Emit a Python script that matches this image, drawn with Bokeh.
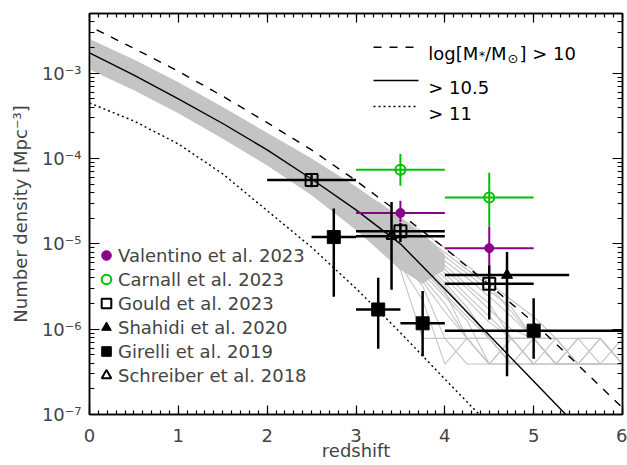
from bokeh.plotting import figure
from bokeh.models import (Range1d, SingleIntervalTicker, LogTicker, LinearAxis, LogAxis,
                          CustomJSTickFormatter, Legend, LegendItem, Label, Arrow)
from bokeh.embed import file_html
from bokeh.resources import INLINE

# ---------------- data ----------------
# model curves: cumulative number density above mass thresholds
z_mass10 = [0.0, 0.5, 1.0, 1.5, 2.0, 2.5, 3.0, 3.5, 4.0, 4.5, 5.0, 5.5, 6.0]
n_mass10 = [3.55e-3, 1.95e-3, 1.05e-3, 5.37e-4, 2.63e-4, 1.26e-4, 5.5e-5, 2.24e-5,
            8.9e-6, 3.3e-6, 1.2e-6, 3.8e-7, 1.2e-7]
z_mass105 = [0.0, 0.5, 1.0, 1.5, 2.0, 2.5, 3.0, 3.5, 4.0, 4.5, 5.0, 5.5]
n_mass105 = [1.73e-3, 9.5e-4, 5.0e-4, 2.57e-4, 1.26e-4, 5.75e-5, 2.5e-5, 1.0e-5,
             2.95e-6, 8.5e-7, 2.45e-7, 7.1e-8]
z_mass11 = [0.0, 0.5, 1.0, 1.5, 2.0, 2.5, 3.0, 3.5, 4.0, 4.5]
n_mass11 = [4.47e-4, 2.75e-4, 1.48e-4, 6.6e-5, 2.45e-5, 9.1e-6, 3.0e-6, 9.1e-7, 2.6e-7, 7.6e-8]

# realisations (grey): dense band at low z
band_z = [0.0, 0.5, 1.0, 1.5, 2.0, 2.5, 3.0, 3.25, 3.5, 3.75, 4.0]
band_hi = [2.51e-3, 1.45e-3, 7.8e-4, 4.0e-4, 2.0e-4, 1.0e-4, 4.7e-5, 3.1e-5, 2.0e-5, 1.3e-5, 7.5e-6]
band_lo = [1.10e-3, 6.3e-4, 3.4e-4, 1.7e-4, 8.3e-5, 3.7e-5, 1.45e-5, 8.5e-6, 5.0e-6, 3.4e-6, 5.0e-6]

# individual realisations at high z
real_z = [3.25, 3.5, 3.75, 4.0, 4.25, 4.5, 4.75, 5.0, 5.25, 5.5, 5.75, 6.0]
real_n = [
    [3.1e-5, 2.0e-5, 1.38e-5, 8.9e-6, 5.6e-6, 3.5e-6, 2.2e-6, 1.4e-6, 7.8e-7, 7.8e-7, 7.8e-7, 3.9e-7],
    [3.0e-5, 1.9e-5, 1.17e-5, 7.1e-6, 4.5e-6, 2.8e-6, 1.8e-6, 7.8e-7, 3.9e-7, 3.9e-7, 7.8e-7, 3.9e-7],
    [2.8e-5, 1.8e-5, 1.1e-5, 6.3e-6, 4.0e-6, 2.4e-6, 1.4e-6, 7.8e-7, 7.8e-7, 3.9e-7, 3.9e-7, 7.8e-7],
    [2.6e-5, 1.6e-5, 9.5e-6, 5.6e-6, 3.3e-6, 2.0e-6, 7.8e-7, 7.8e-7, 3.9e-7, 7.8e-7, 3.9e-7, 3.9e-7],
    [2.5e-5, 1.5e-5, 8.5e-6, 5.0e-6, 3.0e-6, 1.7e-6, 1.0e-6, 7.8e-7, 3.9e-7, 7.8e-7, 7.8e-7, 3.9e-7],
    [2.3e-5, 1.4e-5, 7.9e-6, 4.5e-6, 2.5e-6, 1.4e-6, 7.8e-7, 3.9e-7, 7.8e-7, 3.9e-7, 3.9e-7],
    [2.2e-5, 1.3e-5, 7.1e-6, 4.0e-6, 2.2e-6, 1.2e-6, 7.8e-7, 7.8e-7, 3.9e-7, 3.9e-7, 3.9e-7, 3.9e-7],
    [2.0e-5, 1.2e-5, 6.6e-6, 3.5e-6, 1.8e-6, 7.8e-7, 3.9e-7, 7.8e-7, 3.9e-7, 3.9e-7],
    [1.9e-5, 1.1e-5, 6.0e-6, 3.2e-6, 1.6e-6, 7.8e-7, 7.8e-7, 3.9e-7, 3.9e-7],
    [1.74e-5, 1.0e-5, 5.2e-6, 2.8e-6, 7.8e-7, 7.8e-7, 3.9e-7, 3.9e-7, 3.9e-7],
    [1.65e-5, 9.5e-6, 5.0e-6, 2.6e-6, 1.4e-6, 7.8e-7, 3.9e-7, 3.9e-7],
    [1.58e-5, 8.9e-6, 4.5e-6, 2.4e-6, 1.26e-6, 3.9e-7, 7.8e-7, 7.8e-7, 3.9e-7, 3.9e-7, 3.9e-7, 3.9e-7],
    [1.48e-5, 8.3e-6, 4.0e-6, 2.0e-6, 7.8e-7, 3.9e-7, 7.8e-7, 3.9e-7],
    [1.35e-5, 7.6e-6, 3.6e-6, 1.6e-6, 7.8e-7, 7.8e-7, 3.9e-7],
    [1.26e-5, 6.9e-6, 3.2e-6, 7.8e-7, 7.8e-7, 3.9e-7, 3.9e-7],
    [1.07e-5, 5.6e-6, 2.2e-6, 3.9e-7, 7.8e-7, 3.9e-7, 3.9e-7],
    [9.3e-6, 5.0e-6, 7.8e-7, 7.8e-7, 3.9e-7, 3.9e-7],
    [2.9e-5, 2.0e-5, 1.26e-5, 7.9e-6, 5.0e-6, 3.2e-6, 1.6e-6, 7.8e-7, 7.8e-7, 3.9e-7, 7.8e-7, 3.9e-7],
]

# observations
val_z = [3.5, 4.5]
val_n = [2.3e-5, 8.9e-6]
val_zlo = [3.0, 4.0]
val_zhi = [4.0, 5.0]
val_nlo = [1.8e-5, 5.6e-6]
val_nhi = [3.2e-5, 1.58e-5]

car_z = [3.5, 4.5]
car_n = [7.4e-5, 3.5e-5]
car_zlo = [3.0, 4.0]
car_zhi = [4.0, 5.0]
car_nlo = [4.8e-5, 1.58e-5]
car_nhi = [1.13e-4, 6.8e-5]

gou_z = [2.5, 3.5, 4.5]
gou_n = [5.6e-5, 1.4e-5, 3.4e-6]
gou_zlo = [2.0, 3.0, 4.0]
gou_zhi = [3.0, 4.0, 5.0]
gou_nlo = [4.6e-5, 1.05e-5, 1.3e-6]
gou_nhi = [6.7e-5, 1.75e-5, 5.6e-6]

sha_z = [4.7]
sha_n = [4.3e-6]
sha_zlo = [4.0]
sha_zhi = [5.4]
sha_nlo = [2.8e-7]
sha_nhi = [8.0e-6]

sch_z = [3.4]
sch_n = [1.23e-5]
sch_zlo = [3.0]
sch_zhi = [4.0]
sch_nlo = [2.9e-6]
sch_nhi = [3.1e-5]

gir_z = [2.75, 3.25, 3.75, 5.0]
gir_n = [1.2e-5, 1.7e-6, 1.17e-6, 9.6e-7]
gir_zlo = [2.5, 3.0, 3.5, 4.0]
gir_zhi = [3.0, 3.5, 4.0, 6.0]
gir_nlo = [2.4e-6, 5.9e-7, 4.8e-7, 4.5e-7]
gir_nhi = [2.6e-5, 4.0e-6, 2.8e-6, 2.3e-6]

legend_labels = ["Valentino et al. 2023", "Carnall et al. 2023", "Gould et al. 2023",
                 "Shahidi et al. 2020", "Girelli et al. 2019", "Schreiber et al. 2018"]

# ---------------- styling ----------------
FONT = "DejaVu Sans"
PURPLE = "#8b008b"
GREEN = "#00c000"
GREY = "#c4c4c4"

p = figure(width=627, height=465, output_backend="svg", toolbar_location=None,
           x_range=Range1d(0, 6), y_range=Range1d(1e-7, 5e-3), y_axis_type="log",
           min_border_left=89, min_border_right=5, min_border_top=13, min_border_bottom=51)
p.background_fill_color = "white"
p.border_fill_color = "white"
p.outline_line_color = "black"
p.outline_line_width = 1.5
p.xgrid.visible = False
p.ygrid.visible = False

sup_code = """
const m = {"-": "\u207b", "0": "\u2070", "1": "\u00b9", "2": "\u00b2", "3": "\u00b3",
           "4": "\u2074", "5": "\u2075", "6": "\u2076", "7": "\u2077", "8": "\u2078", "9": "\u2079"};
const e = Math.round(Math.log10(tick));
let s = "";
for (const c of String(e)) { s += m[c]; }
return "10" + s;
"""
empty_code = "return '';"

xa = p.xaxis[0]
xa.ticker = SingleIntervalTicker(interval=1, num_minor_ticks=10)
xa.major_label_text_font = FONT
xa.major_label_text_font_size = "18px"
xa.major_label_standoff = 14
xa.major_tick_in = 9
xa.major_tick_out = 0
xa.minor_tick_in = 4
xa.minor_tick_out = 0
xa.axis_line_width = 1.5
xa.major_tick_line_width = 1.2
xa.minor_tick_line_width = 1.2
xa.axis_label = "redshift"
xa.axis_label_text_font = FONT
xa.axis_label_text_font_size = "18px"
xa.axis_label_text_font_style = "normal"
xa.axis_label_standoff = -5

ya = p.yaxis[0]
ya.ticker = LogTicker(num_minor_ticks=10)
ya.formatter = CustomJSTickFormatter(code=sup_code)
ya.major_label_text_font = FONT
ya.major_label_text_font_size = "18px"
ya.major_label_standoff = 8
ya.major_tick_in = 10
ya.major_tick_out = 0
ya.minor_tick_in = 5
ya.minor_tick_out = 0
ya.axis_line_width = 1.5
ya.major_tick_line_width = 1.2
ya.minor_tick_line_width = 1.2
ya.axis_label = "Number density [Mpc\u207b\u00b3]"
ya.axis_label_text_font = FONT
ya.axis_label_text_font_size = "18px"
ya.axis_label_text_font_style = "normal"
ya.axis_label_standoff = 8

top = LinearAxis(ticker=SingleIntervalTicker(interval=1, num_minor_ticks=10),
                 formatter=CustomJSTickFormatter(code=empty_code),
                 major_label_text_font_size="0px", major_label_standoff=0,
                 major_tick_in=9, major_tick_out=0, minor_tick_in=4, minor_tick_out=0,
                 axis_line_width=1.5, major_tick_line_width=1.2, minor_tick_line_width=1.2)
p.add_layout(top, "above")
right = LogAxis(ticker=LogTicker(num_minor_ticks=10),
                formatter=CustomJSTickFormatter(code=empty_code),
                major_label_text_font_size="0px", major_label_standoff=0,
                major_tick_in=10, major_tick_out=0, minor_tick_in=5, minor_tick_out=0,
                axis_line_width=1.5, major_tick_line_width=1.2, minor_tick_line_width=1.2)
p.add_layout(right, "right")

# ---------------- grey realisations ----------------
p.varea(x=band_z, y1=band_lo, y2=band_hi, fill_color=GREY, fill_alpha=1.0)
p.multi_line(xs=[real_z[:len(r)] for r in real_n], ys=real_n, line_color=GREY, line_width=1.1)

# ---------------- model curves ----------------
p.line(z_mass10, n_mass10, line_color="black", line_width=1.4, line_dash="8 8", line_dash_offset=8)
p.line(z_mass105, n_mass105, line_color="black", line_width=1.4)
p.line(z_mass11, n_mass11, line_color="black", line_width=1.4, line_dash="2 3")

# ---------------- observations ----------------
def errbars(z, n, zlo, zhi, nlo, nhi, color, width):
    p.segment(x0=zlo, y0=n, x1=zhi, y1=n, line_color=color, line_width=width)
    p.segment(x0=z, y0=nlo, x1=z, y1=nhi, line_color=color, line_width=width)

errbars(car_z, car_n, car_zlo, car_zhi, car_nlo, car_nhi, GREEN, 2)
errbars(val_z, val_n, val_zlo, val_zhi, val_nlo, val_nhi, PURPLE, 2)
errbars(gir_z, gir_n, gir_zlo, gir_zhi, gir_nlo, gir_nhi, "black", 2.5)
errbars(sch_z, sch_n, sch_zlo, sch_zhi, sch_nlo, sch_nhi, "black", 2.5)
errbars(sha_z, sha_n, sha_zlo, sha_zhi, sha_nlo, sha_nhi, "black", 2.5)
errbars(gou_z, gou_n, gou_zlo, gou_zhi, gou_nlo, gou_nhi, "black", 2.5)

r_val = p.scatter(val_z, val_n, marker="circle", size=9, fill_color=PURPLE, line_color=PURPLE)
r_car = p.scatter(car_z, car_n, marker="circle", size=10, fill_color=None, line_color=GREEN, line_width=2)
r_sch = p.scatter(sch_z, sch_n, marker="triangle", size=10, fill_color=None, line_color="black", line_width=2)
r_gou = p.scatter(gou_z, gou_n, marker="square", size=12, fill_color=None, line_color="black", line_width=2)
r_sha = p.scatter(sha_z, sha_n, marker="triangle", size=11, fill_color="black", line_color="black")
r_gir = p.scatter(gir_z, gir_n, marker="square", size=13, fill_color="black", line_color="black")

legend = Legend(items=[LegendItem(label=lab, renderers=[r]) for lab, r in
                       zip(legend_labels, [r_val, r_car, r_gou, r_sha, r_gir, r_sch])],
                location=(5, 27), orientation="vertical",
                glyph_width=24, glyph_height=24, label_height=24, label_standoff=0,
                spacing=0, padding=0, margin=0,
                label_text_font=FONT, label_text_font_size="18px",
                border_line_color=None, background_fill_alpha=0)
p.add_layout(legend)

# ---------------- line key (top right) ----------------
for fy, dash, lw in [(367.3, "8 8", 1.4), (334, "solid", 1.4), (308, "2 3", 1.4)]:
    p.add_layout(Arrow(end=None, x_start=284, y_start=fy, x_end=329, y_end=fy,
                       start_units="screen", end_units="screen",
                       line_color="black", line_width=lw, line_dash=dash))

def lab(x, y, text, size="18px"):
    p.add_layout(Label(x=x, y=y, x_units="screen", y_units="screen", text=text,
                       text_font=FONT, text_font_size=size, text_color="black",
                       text_baseline="alphabetic", text_align="left"))

lab(338.7, 360.7, "log[M")
lab(389.5, 358.7, "*", "12px")
lab(395.5, 360.7, "/M")
lab(418.0, 355.7, "\u2299", "13px")
lab(430.0, 360.7, "] > 10")
lab(338.7, 327.5, "> 10.5")
lab(338.7, 301.5, "> 11")

open("out.html", "w").write(file_html(p, INLINE))
